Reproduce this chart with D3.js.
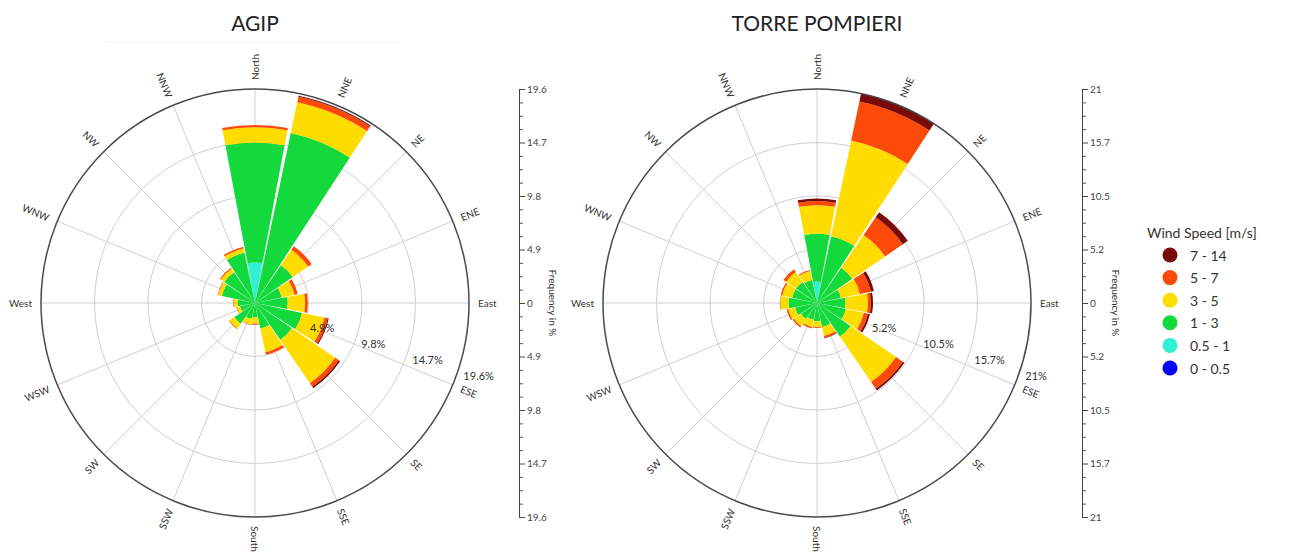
<!DOCTYPE html>
<html>
<head>
<meta charset="utf-8">
<script src="https://cdn.jsdelivr.net/npm/d3@7"></script>
<style>
  body { margin: 0; background: #fff; }
  svg { display: block; font-family: Lato, "Open Sans", sans-serif; }
</style>
</head>
<body>
<div id="chart"></div>
<script>
// Wind directions, clockwise from North
var directions = ["North", "NNE", "NE", "ENE", "East", "ESE", "SE", "SSE",
                  "South", "SSW", "SW", "WSW", "West", "WNW", "NW", "NNW"];
var speedBins = ["0 - 0.5", "0.5 - 1", "1 - 3", "3 - 5", "5 - 7", "7 - 14"];

// AGIP - frequency (%) per speed class and direction
var agipB0 = [0, 0, 0, 0, 0, 0, 0, 0, 0, 0, 0, 0, 0, 0, 0, 0];
var agipB1 = [3.7, 0, 0, 0, 0, 0, 0, 0, 0, 0, 0, 0, 0, 0, 0, 0];
var agipB2 = [11.0, 15.9, 4.2, 2.5, 3.0, 4.4, 4.1, 2.4, 1.3, 1.5, 2.3, 1.4, 1.6, 3.1, 3.4, 4.7];
var agipB3 = [1.4, 2.9, 1.7, 1.2, 1.6, 2.1, 4.8, 2.2, 0.6, 0.5, 0.55, 0.3, 0.35, 0.35, 0.4, 0.4];
var agipB4 = [0.2, 0.5, 0.4, 0.3, 0.25, 0.3, 0.4, 0.25, 0.1, 0.05, 0.05, 0.05, 0.05, 0.05, 0.1, 0.15];
var agipB5 = [0, 0.1, 0, 0, 0, 0.1, 0.15, 0, 0, 0, 0, 0, 0, 0, 0, 0];
var agipMax = 19.6;
var agipTicks = ["0", "4.9", "9.8", "14.7", "19.6"];

// TORRE POMPIERI - frequency (%) per speed class and direction
var torreB0 = [0, 0, 0, 0, 0, 0, 0, 0, 0, 0, 0, 0, 0, 0, 0, 0];
var torreB1 = [2.1, 0, 0, 0, 0, 0, 0, 0, 0, 0, 0, 0, 0, 0, 0, 0];
var torreB2 = [4.7, 6.7, 4.2, 2.4, 2.8, 2.9, 4.0, 2.4, 1.8, 1.7, 1.9, 2.2, 2.8, 2.5, 2.5, 2.3];
var torreB3 = [2.8, 9.6, 3.9, 1.9, 2.2, 1.8, 5.4, 0.9, 0.55, 0.7, 0.85, 0.7, 0.8, 1.0, 1.2, 0.9];
var torreB4 = [0.4, 3.9, 2.1, 1.1, 0.3, 0.4, 0.8, 0.2, 0.1, 0.15, 0.15, 0.15, 0.05, 0.15, 0.3, 0.1];
var torreB5 = [0.25, 0.8, 0.6, 0.3, 0.2, 0.2, 0.2, 0.05, 0, 0, 0, 0, 0, 0, 0, 0];
var torreMax = 21;
var torreTicks = ["0", "5.2", "10.5", "15.7", "21"];

var binColors = ["#0000ff", "#30f0d2", "#14d93c", "#ffdc00", "#fc4a08", "#7a0b0b"];
var keys = ["b0", "b1", "b2", "b3", "b4", "b5"];

var width = 1293, height = 558;
var R = 214;

var svg = d3.select("#chart").append("svg")
    .attr("width", width)
    .attr("height", height);

function buildRows(b) {
  return directions.map(function (d, i) {
    return { dir: d, b0: b[0][i], b1: b[1][i], b2: b[2][i], b3: b[3][i], b4: b[4][i], b5: b[5][i] };
  });
}

function drawRose(cx, cy, title, rows, maxVal, tickLabels, axisX) {
  var g = svg.append("g").attr("transform", `translate(${cx},${cy})`);
  var r = d3.scaleLinear().domain([0, maxVal]).range([0, R]);
  var step = 2 * Math.PI / directions.length;
  var half = step / 2 - 0.011;

  // grid rings
  g.selectAll("circle.ring")
    .data([1, 2, 3])
    .enter().append("circle")
    .attr("r", d => r(d * maxVal / 4))
    .attr("fill", "none")
    .attr("stroke", "#cfcfcf")
    .attr("stroke-width", 1);

  // radial spokes
  g.selectAll("line.spoke")
    .data(directions)
    .enter().append("line")
    .attr("x1", 0).attr("y1", 0)
    .attr("x2", (d, i) => R * Math.sin(i * step))
    .attr("y2", (d, i) => -R * Math.cos(i * step))
    .attr("stroke", "#cfcfcf")
    .attr("stroke-width", 1);

  // stacked petals
  var stacked = d3.stack().keys(keys)(rows);
  var arc = d3.arc()
    .innerRadius(d => r(d[0]))
    .outerRadius(d => r(d[1]))
    .startAngle(d => d.i * step - half)
    .endAngle(d => d.i * step + half);

  stacked.forEach(function (layer, k) {
    var segs = layer.map((d, i) => { d.i = i; return d; }).filter(d => d[1] - d[0] > 0);
    g.append("g").selectAll("path")
      .data(segs)
      .enter().append("path")
      .attr("d", arc)
      .attr("fill", binColors[k]);
  });

  // outer circle
  g.append("circle")
    .attr("r", R)
    .attr("fill", "none")
    .attr("stroke", "#4a4a4a")
    .attr("stroke-width", 1.5);

  // direction labels
  g.selectAll("text.dir")
    .data(directions)
    .enter().append("text")
    .attr("transform", function (d, i) {
      var b = i * step;
      var deg = i * 360 / directions.length;
      var x = (R + 9) * Math.sin(b), y = -(R + 9) * Math.cos(b);
      var rot = deg <= 180 ? deg - 90 : deg - 270;
      return `translate(${x},${y}) rotate(${rot})`;
    })
    .attr("text-anchor", (d, i) => (i * 360 / directions.length) <= 180 ? "start" : "end")
    .attr("dominant-baseline", "central")
    .attr("font-size", 10)
    .attr("fill", "#333")
    .text(d => d);

  // ring labels along the ESE side
  g.selectAll("text.ringlab")
    .data([1, 2, 3, 4])
    .enter().append("text")
    .attr("x", d => r(d * maxVal / 4) * 0.955 + 4)
    .attr("y", d => r(d * maxVal / 4) * 0.3 + 8)
    .attr("dominant-baseline", "central")
    .attr("font-size", 11)
    .attr("fill", "#333")
    .text(d => tickLabels[d] + "%");

  // title
  svg.append("text")
    .attr("x", cx)
    .attr("y", 22)
    .attr("text-anchor", "middle")
    .attr("dominant-baseline", "central")
    .attr("font-size", 21)
    .attr("fill", "#222")
    .text(title);

  // frequency axis
  var y = d3.scaleLinear().domain([-maxVal, maxVal]).range([cy + R, cy - R]);
  var major = d3.range(-4, 5).map(k => k * maxVal / 4);
  var minor = d3.range(-16, 17).filter(k => k % 4 !== 0).map(k => k * maxVal / 16);

  svg.append("g")
    .attr("transform", `translate(${axisX},0)`)
    .call(d3.axisRight(y).tickValues(minor).tickSize(4).tickSizeOuter(0).tickFormat(""))
    .call(a => a.select(".domain").remove())
    .call(a => a.selectAll("line").attr("stroke", "#555"));

  var ax = svg.append("g")
    .attr("transform", `translate(${axisX},0)`)
    .call(d3.axisRight(y).tickValues(major).tickSize(6).tickSizeOuter(0)
      .tickFormat(v => tickLabels[Math.round(Math.abs(v) / (maxVal / 4))]));
  ax.select(".domain").attr("stroke", "#444");
  ax.selectAll("line").attr("stroke", "#444");
  ax.selectAll("text")
    .attr("font-family", "Lato, sans-serif")
    .attr("font-size", 10)
    .attr("fill", "#444")
    .attr("x", 8);

  svg.append("text")
    .attr("transform", `translate(${axisX + 34},${cy}) rotate(90)`)
    .attr("text-anchor", "middle")
    .attr("dominant-baseline", "central")
    .attr("font-size", 10)
    .attr("fill", "#333")
    .text("Frequency in %");
}

// faint separator under the first title
svg.append("line")
  .attr("x1", 107).attr("x2", 400)
  .attr("y1", 42).attr("y2", 42)
  .attr("stroke", "#f0f0f0");

drawRose(255, 303, "AGIP",
  buildRows([agipB0, agipB1, agipB2, agipB3, agipB4, agipB5]),
  agipMax, agipTicks, 519);

drawRose(817, 303, "TORRE POMPIERI",
  buildRows([torreB0, torreB1, torreB2, torreB3, torreB4, torreB5]),
  torreMax, torreTicks, 1082);

// legend
var legend = svg.append("g").attr("transform", "translate(1147,232)");
legend.append("text")
  .attr("x", 0).attr("y", 0)
  .attr("dominant-baseline", "central")
  .attr("font-size", 14)
  .attr("fill", "#333")
  .text("Wind Speed [m/s]");

var legendOrder = d3.range(speedBins.length).reverse();
var item = legend.selectAll("g.item")
  .data(legendOrder)
  .enter().append("g")
  .attr("transform", (d, i) => `translate(0,${23 + i * 22.6})`);

item.append("circle")
  .attr("cx", 23)
  .attr("cy", 0)
  .attr("r", 7.5)
  .attr("fill", d => binColors[d]);

item.append("text")
  .attr("x", 43)
  .attr("y", 0)
  .attr("dominant-baseline", "central")
  .attr("font-size", 14)
  .attr("fill", "#333")
  .text(d => speedBins[d]);
</script>
</body>
</html>
